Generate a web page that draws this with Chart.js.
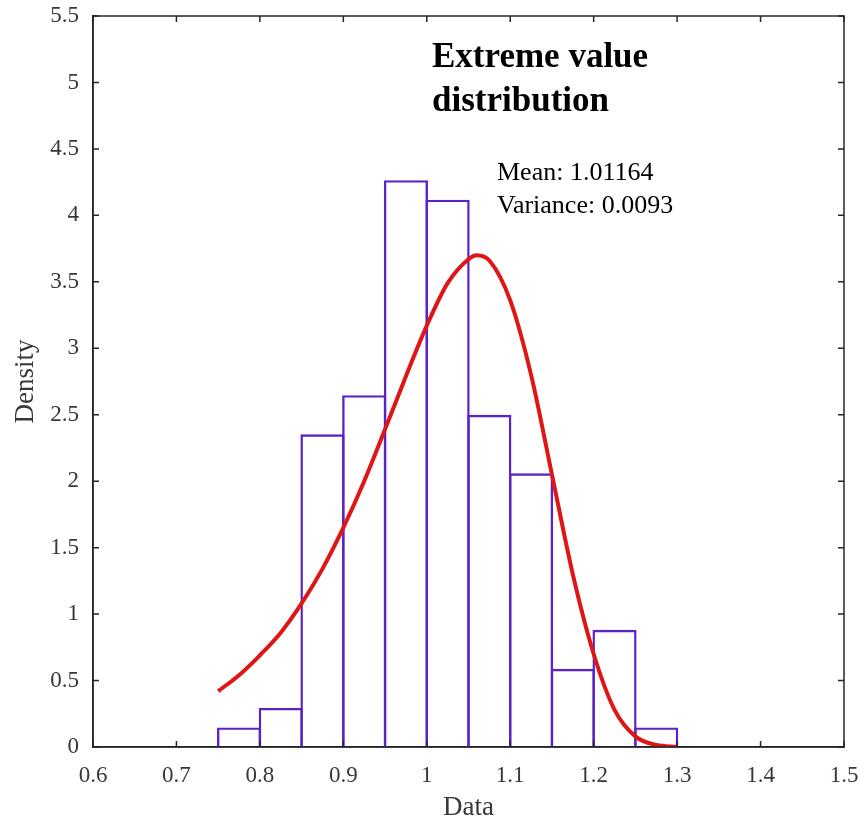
<!DOCTYPE html>
<html>
<head>
<meta charset="utf-8">
<script src="https://cdn.jsdelivr.net/npm/chart.js@4.4.1/dist/chart.umd.min.js"></script>
<style>
  html, body { margin: 0; padding: 0; background: #fff; }
  #wrap { width: 865px; height: 821px; position: relative; }
</style>
</head>
<body>
<div id="wrap"><canvas id="chart"></canvas></div>
<script>
// histogram: bin centres (width 0.05) and density heights
const binCenters = [0.775, 0.825, 0.875, 0.925, 0.975, 1.025, 1.075, 1.125, 1.175, 1.225, 1.275];
const binDensity = [0.147, 0.294, 2.353, 2.647, 4.265, 4.118, 2.5, 2.059, 0.588, 0.882, 0.147];

// fitted extreme value curve
const curveX = [0.75, 0.775, 0.8, 0.825, 0.85, 0.875, 0.9, 0.925, 0.95, 0.975, 1.0, 1.025, 1.05, 1.06, 1.075, 1.1, 1.125, 1.15, 1.175, 1.2, 1.225, 1.25, 1.275, 1.3];
const curveY = [0.42, 0.54, 0.69, 0.86, 1.08, 1.34, 1.65, 2.0, 2.39, 2.79, 3.17, 3.49, 3.67, 3.7, 3.66, 3.36, 2.8, 2.05, 1.3, 0.7, 0.28, 0.08, 0.015, 0.002];

const xTicks = [0.6, 0.7, 0.8, 0.9, 1.0, 1.1, 1.2, 1.3, 1.4, 1.5];
const xTickLabels = ['0.6', '0.7', '0.8', '0.9', '1', '1.1', '1.2', '1.3', '1.4', '1.5'];
const yTicks = [0, 0.5, 1, 1.5, 2, 2.5, 3, 3.5, 4, 4.5, 5, 5.5];
const yTickLabels = ['0', '0.5', '1', '1.5', '2', '2.5', '3', '3.5', '4', '4.5', '5', '5.5'];

const serif = '"Liberation Serif", "Times New Roman", serif';
const axisColor = '#262626';
const labelColor = '#383838';

// box round the plot with inward ticks on all four sides, plus the text notes
const boxPlugin = {
  id: 'box',
  afterDraw(chart) {
    const ctx = chart.ctx;
    const a = chart.chartArea;
    const xs = chart.scales.x, ys = chart.scales.y;
    const len = 6;
    ctx.save();
    ctx.strokeStyle = axisColor;
    ctx.lineWidth = 1.5;
    ctx.strokeRect(a.left, a.top, a.right - a.left, a.bottom - a.top);
    ctx.beginPath();
    xTicks.forEach(v => {
      const px = xs.getPixelForValue(v);
      ctx.moveTo(px, a.bottom); ctx.lineTo(px, a.bottom - len);
      ctx.moveTo(px, a.top); ctx.lineTo(px, a.top + len);
    });
    yTicks.forEach(v => {
      const py = ys.getPixelForValue(v);
      ctx.moveTo(a.left, py); ctx.lineTo(a.left + len, py);
      ctx.moveTo(a.right, py); ctx.lineTo(a.right - len, py);
    });
    ctx.stroke();

    ctx.fillStyle = '#000';
    ctx.textAlign = 'left';
    ctx.textBaseline = 'alphabetic';
    ctx.font = 'bold 35px ' + serif;
    ctx.fillText('Extreme value', 432, 67);
    ctx.fillText('distribution', 432, 111);
    ctx.font = '26px ' + serif;
    ctx.fillText('Mean: 1.01164', 497, 180);
    ctx.fillText('Variance: 0.0093', 497, 213);
    ctx.restore();
  }
};

const ctx = document.getElementById('chart').getContext('2d');
new Chart(ctx, {
  data: {
    datasets: [
      {
        type: 'line',
        label: 'fit',
        data: curveX.map((x, i) => ({ x: x, y: curveY[i] })),
        borderColor: 'rgb(222, 22, 22)',
        borderWidth: 4,
        pointRadius: 0,
        cubicInterpolationMode: 'monotone',
        fill: false,
        order: 0
      },
      {
        type: 'bar',
        label: 'data',
        data: binCenters.map((x, i) => ({ x: x, y: binDensity[i] })),
        backgroundColor: 'rgba(255, 255, 255, 0)',
        borderColor: 'rgb(92, 34, 200)',
        borderWidth: 2.4,
        borderSkipped: 'start',
        // a touch wider than the bin so neighbouring borders sit on top of each other
        barPercentage: 1.0575,
        categoryPercentage: 1,
        order: 1
      }
    ]
  },
  options: {
    responsive: true,
    maintainAspectRatio: false,
    animation: false,
    layout: { padding: { left: 0, top: 16, right: 21, bottom: 0 } },
    plugins: {
      legend: { display: false },
      tooltip: { enabled: false }
    },
    scales: {
      x: {
        type: 'linear',
        min: 0.6,
        max: 1.5,
        offset: false,
        afterBuildTicks: scale => { scale.ticks = xTicks.map(v => ({ value: v })); },
        afterFit: scale => {
          scale.height = 74;
          scale.paddingLeft = 0;
          scale.paddingRight = 0;
        },
        grid: { display: false, drawTicks: false, offset: false },
        border: { display: true, color: axisColor, width: 1.5 },
        ticks: {
          padding: 15,
          color: labelColor,
          font: { family: serif, size: 23 },
          callback: (v, i) => xTickLabels[i]
        },
        title: {
          display: true,
          text: 'Data',
          color: labelColor,
          font: { family: serif, size: 27, lineHeight: 1 },
          padding: { top: 0, bottom: 0 }
        }
      },
      y: {
        type: 'linear',
        min: 0,
        max: 5.5,
        afterBuildTicks: scale => { scale.ticks = yTicks.map(v => ({ value: v })); },
        afterFit: scale => {
          scale.width = 93;
          scale.paddingTop = 0;
          scale.paddingBottom = 0;
        },
        grid: { display: false, drawTicks: false },
        border: { display: true, color: axisColor, width: 1.5 },
        ticks: {
          padding: 14,
          color: labelColor,
          font: { family: serif, size: 23 },
          callback: (v, i) => yTickLabels[i]
        },
        title: {
          display: true,
          text: 'Density',
          color: labelColor,
          font: { family: serif, size: 27, lineHeight: 1 },
          padding: { top: 12, bottom: 0 }
        }
      }
    }
  },
  plugins: [boxPlugin]
});
</script>
</body>
</html>
